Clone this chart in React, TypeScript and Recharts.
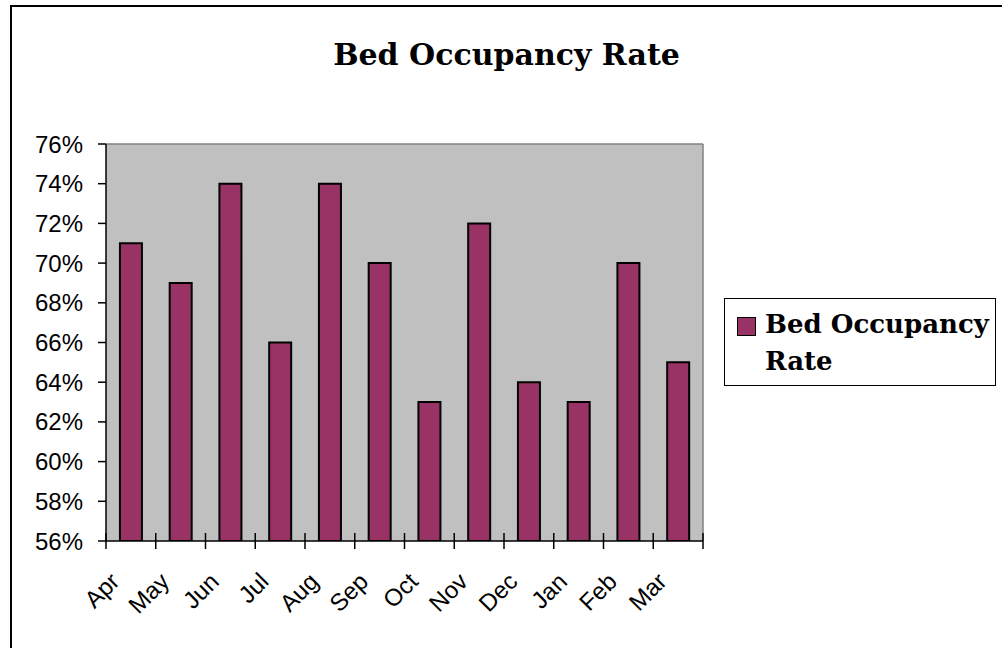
import React from "react";
import { BarChart, Bar, XAxis, YAxis, CartesianGrid, Legend } from "recharts";

const months = ["Apr", "May", "Jun", "Jul", "Aug", "Sep", "Oct", "Nov", "Dec", "Jan", "Feb", "Mar"];
const occupancy = [0.71, 0.69, 0.74, 0.66, 0.74, 0.70, 0.63, 0.72, 0.64, 0.63, 0.70, 0.65];
const yTicks = [0.56, 0.58, 0.6, 0.62, 0.64, 0.66, 0.68, 0.7, 0.72, 0.74, 0.76];

const data = months.map((m, i) => ({ month: m, rate: occupancy[i] }));

const XTick = (props: any) => {
  const { x, y, payload, index, width } = props;
  const band = (width || 597) / months.length;
  const ty = y + 42;
  const tx = x - 10;
  const left = x - band / 2;
  const right = x + band / 2;
  return (
    <g>
      <line x1={left} x2={left} y1={y - 8} y2={y + 8} stroke="#000" strokeWidth={1.5} />
      {index === months.length - 1 && (
        <line x1={right} x2={right} y1={y - 8} y2={y + 8} stroke="#000" strokeWidth={1.5} />
      )}
      <text
        x={tx}
        y={ty}
        transform={`rotate(-45, ${tx}, ${ty})`}
        textAnchor="end"
        fontFamily="Liberation Sans, Arial, sans-serif"
        fontSize={24}
        fill="#000"
      >
        {payload.value}
      </text>
    </g>
  );
};

const LegendBox = () => (
  <div
    style={{
      width: 272,
      height: 88,
      border: "1px solid #000",
      background: "#fff",
      boxSizing: "border-box",
      position: "relative",
      fontFamily: "'DejaVu Serif', serif",
      fontWeight: "bold",
      fontSize: 26,
      color: "#000",
    }}
  >
    <div
      style={{
        position: "absolute",
        left: 12,
        top: 18,
        width: 17,
        height: 17,
        background: "#993366",
        border: "1.5px solid #000",
      }}
    />
    <div style={{ position: "absolute", left: 40, top: 7, lineHeight: "37px", whiteSpace: "nowrap" }}>
      Bed Occupancy
      <br />
      Rate
    </div>
  </div>
);

export default function App() {
  return (
    <div style={{ position: "absolute", left: 0, top: 0, width: 1003, height: 648, background: "#fff", overflow: "hidden" }}>
      <div
        style={{
          position: "absolute",
          left: 10,
          top: 5,
          width: 992,
          height: 700,
          borderTop: "2px solid #000",
          borderLeft: "2px solid #000",
          boxSizing: "border-box",
        }}
      />
      <div
        style={{
          position: "absolute",
          left: 10,
          width: 993,
          top: 37,
          textAlign: "center",
          fontFamily: "'DejaVu Serif', serif",
          fontWeight: "bold",
          fontSize: 30,
          color: "#000",
        }}
      >
        Bed Occupancy Rate
      </div>
      <div style={{ position: "absolute", left: 0, top: 0 }}>
        <BarChart
          width={1003}
          height={648}
          data={data}
          margin={{ top: 144, right: 300, bottom: 0, left: 0 }}
          barCategoryGap="28%"
        >
          <CartesianGrid
            fill="#C0C0C0"
            stroke="#808080"
            strokeWidth={1.5}
            horizontalPoints={[144]}
            verticalPoints={[703]}
          />
          <XAxis
            dataKey="month"
            height={107}
            interval={0}
            tickLine={false}
            tickSize={0}
            tickMargin={0}
            axisLine={{ stroke: "#000", strokeWidth: 1.5 }}
            tick={<XTick />}
          />
          <YAxis
            width={106}
            domain={[0.56, 0.76]}
            ticks={yTicks}
            interval={0}
            allowDataOverflow
            tickFormatter={(v: number) => `${Math.round(v * 100)}%`}
            tickSize={8}
            tickMargin={15}
            tickLine={{ stroke: "#000", strokeWidth: 1.5 }}
            axisLine={{ stroke: "#000", strokeWidth: 1.5 }}
            tick={{ fill: "#000", fontSize: 24, fontFamily: "Liberation Sans, Arial, sans-serif", dy: 0 }}
          />
          <Bar
            dataKey="rate"
            name="Bed Occupancy Rate"
            fill="#993366"
            stroke="#000"
            strokeWidth={2}
            isAnimationActive={false}
          />
          <Legend
            layout="horizontal"
            verticalAlign="middle"
            align="center"
            content={<LegendBox />}
            wrapperStyle={{ position: "absolute", left: 724, top: 298, width: 272 }}
          />
        </BarChart>
      </div>
    </div>
  );
}
